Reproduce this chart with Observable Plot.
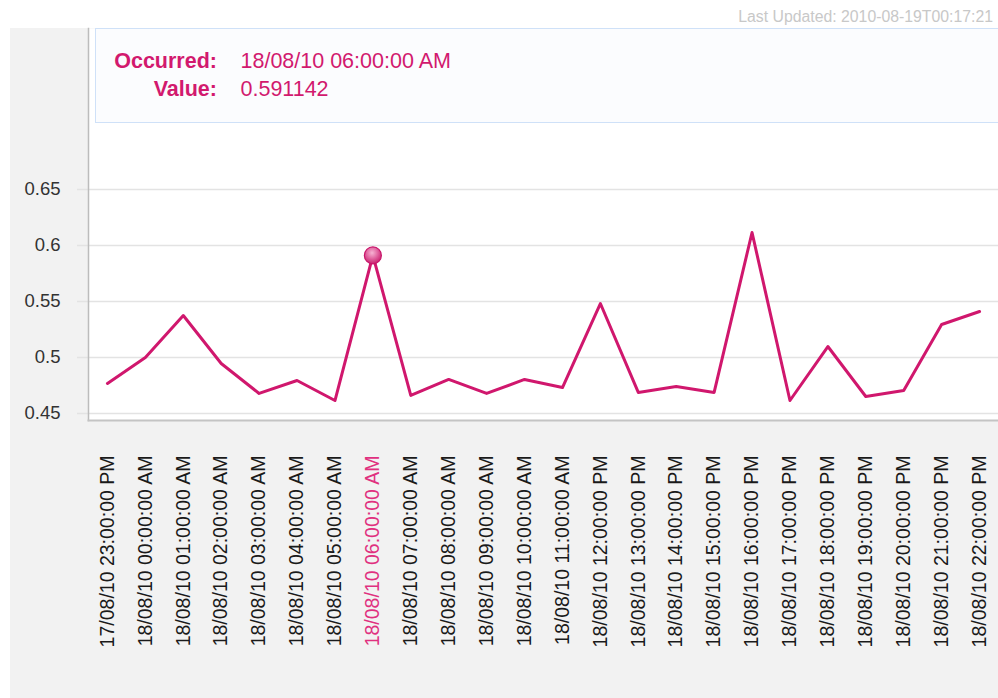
<!DOCTYPE html>
<html>
<head>
<meta charset="utf-8">
<script src="https://cdn.jsdelivr.net/npm/d3@7"></script>
<script src="https://cdn.jsdelivr.net/npm/@observablehq/plot@0.6"></script>
<style>
  html, body { margin: 0; padding: 0; background: #ffffff; }
  body { font-family: "Liberation Sans", Arial, sans-serif; }
  #wrap { position: relative; width: 998px; height: 698px; overflow: hidden; }
  #updated { position: absolute; right: 5px; top: 7px; line-height: 20px; font-size: 15.8px; color: #c8c8c8; white-space: nowrap; }
  #chart { position: absolute; left: 10px; top: 28px; width: 988px; height: 670px; background: #f2f2f2; }
  #tip { position: absolute; left: 95px; top: 28px; width: 910px; background: #fbfcfe; border: 1.5px solid #cfe1f8; color: #d2196e; font-size: 21.5px; padding-top: 17.5px; box-sizing: border-box; height: 95px; }
  #tip .row { height: 28px; line-height: 28px; white-space: nowrap; }
  #tip .k { display: inline-block; width: 121px; text-align: right; font-weight: bold; }
  #tip .v { display: inline-block; margin-left: 23.5px; }
</style>
</head>
<body>
<div id="wrap">
  <div id="updated"></div>
  <div id="chart"></div>
  <div id="tip"></div>
</div>
<script>
const labels = [
  "17/08/10 23:00:00 PM",
  "18/08/10 00:00:00 AM",
  "18/08/10 01:00:00 AM",
  "18/08/10 02:00:00 AM",
  "18/08/10 03:00:00 AM",
  "18/08/10 04:00:00 AM",
  "18/08/10 05:00:00 AM",
  "18/08/10 06:00:00 AM",
  "18/08/10 07:00:00 AM",
  "18/08/10 08:00:00 AM",
  "18/08/10 09:00:00 AM",
  "18/08/10 10:00:00 AM",
  "18/08/10 11:00:00 AM",
  "18/08/10 12:00:00 PM",
  "18/08/10 13:00:00 PM",
  "18/08/10 14:00:00 PM",
  "18/08/10 15:00:00 PM",
  "18/08/10 16:00:00 PM",
  "18/08/10 17:00:00 PM",
  "18/08/10 18:00:00 PM",
  "18/08/10 19:00:00 PM",
  "18/08/10 20:00:00 PM",
  "18/08/10 21:00:00 PM",
  "18/08/10 22:00:00 PM"
];
const values = [
  0.4768, 0.5000, 0.5375, 0.4946, 0.4679, 0.4795, 0.4616, 0.591142,
  0.4661, 0.4804, 0.4679, 0.4804, 0.4732, 0.5482, 0.4688, 0.4741,
  0.4688, 0.6116, 0.4616, 0.5098, 0.4652, 0.4705, 0.5295, 0.5411
];
const yTicks = [0.45, 0.5, 0.55, 0.6, 0.65];
const yDomain = [0.44375, 0.79375];
const highlightIndex = 7;
const lastUpdated = "2010-08-19T00:17:21";
const tipKeys = ["Occurred:", "Value:"];

const pink = "#d0176d";
const data = labels.map((label, i) => ({label, value: values[i]}));
const hl = data[highlightIndex];

document.getElementById("updated").textContent = "Last Updated: " + lastUpdated;
document.getElementById("tip").innerHTML =
  `<div class="row"><span class="k">${tipKeys[0]}</span><span class="v">${hl.label}</span></div>` +
  `<div class="row"><span class="k">${tipKeys[1]}</span><span class="v">${hl.value}</span></div>`;

const defsMark = () => {
  const ns = "http://www.w3.org/2000/svg";
  const defs = document.createElementNS(ns, "defs");
  defs.innerHTML =
    '<radialGradient id="mk" cx="45%" cy="35%" r="65%">' +
    '<stop offset="0%" stop-color="#f6b3d3"/>' +
    '<stop offset="55%" stop-color="#e0609d"/>' +
    '<stop offset="100%" stop-color="#c8206e"/>' +
    '</radialGradient>';
  return defs;
};

const chart = Plot.plot({
  width: 988,
  height: 670,
  marginTop: 0,
  marginLeft: 78,
  marginRight: 0,
  marginBottom: 278,
  style: {background: "transparent", fontFamily: "'Liberation Sans', Arial, sans-serif", overflow: "visible"},
  x: {type: "point", domain: labels, padding: 0.5, round: false, axis: null, label: null},
  y: {domain: yDomain, axis: null, label: null},
  marks: [
    defsMark,
    Plot.frame({fill: "white", stroke: null}),
    Plot.gridY(yTicks, {stroke: "#e3e3e3", strokeOpacity: 1, strokeWidth: 1.5}),
    Plot.axisY(yTicks, {label: null, tickSize: 11, tickPadding: 17, stroke: "#e3e3e3", strokeOpacity: 1, strokeWidth: 1.5, fill: "#333333", fontSize: 18.5, tickFormat: d => String(d)}),
    Plot.frame({anchor: "left", stroke: "#bcbcbc", strokeWidth: 1.5}),
    Plot.frame({anchor: "bottom", stroke: "#c4c4c4", strokeWidth: 2}),
    Plot.axisX({label: null, tickRotate: -90, tickSize: 0, tickPadding: 35, fontSize: 19.5,
      fill: d => d === labels[highlightIndex] ? "#e0307f" : "#1a1a1a"}),
    Plot.line(data, {x: "label", y: "value", stroke: pink, strokeWidth: 3}),
    Plot.dot([hl], {x: "label", y: "value", r: 8.5, fill: "url(#mk)", stroke: "#c8156a", strokeWidth: 1.2})
  ]
});
document.getElementById("chart").appendChild(chart);
</script>
</body>
</html>
